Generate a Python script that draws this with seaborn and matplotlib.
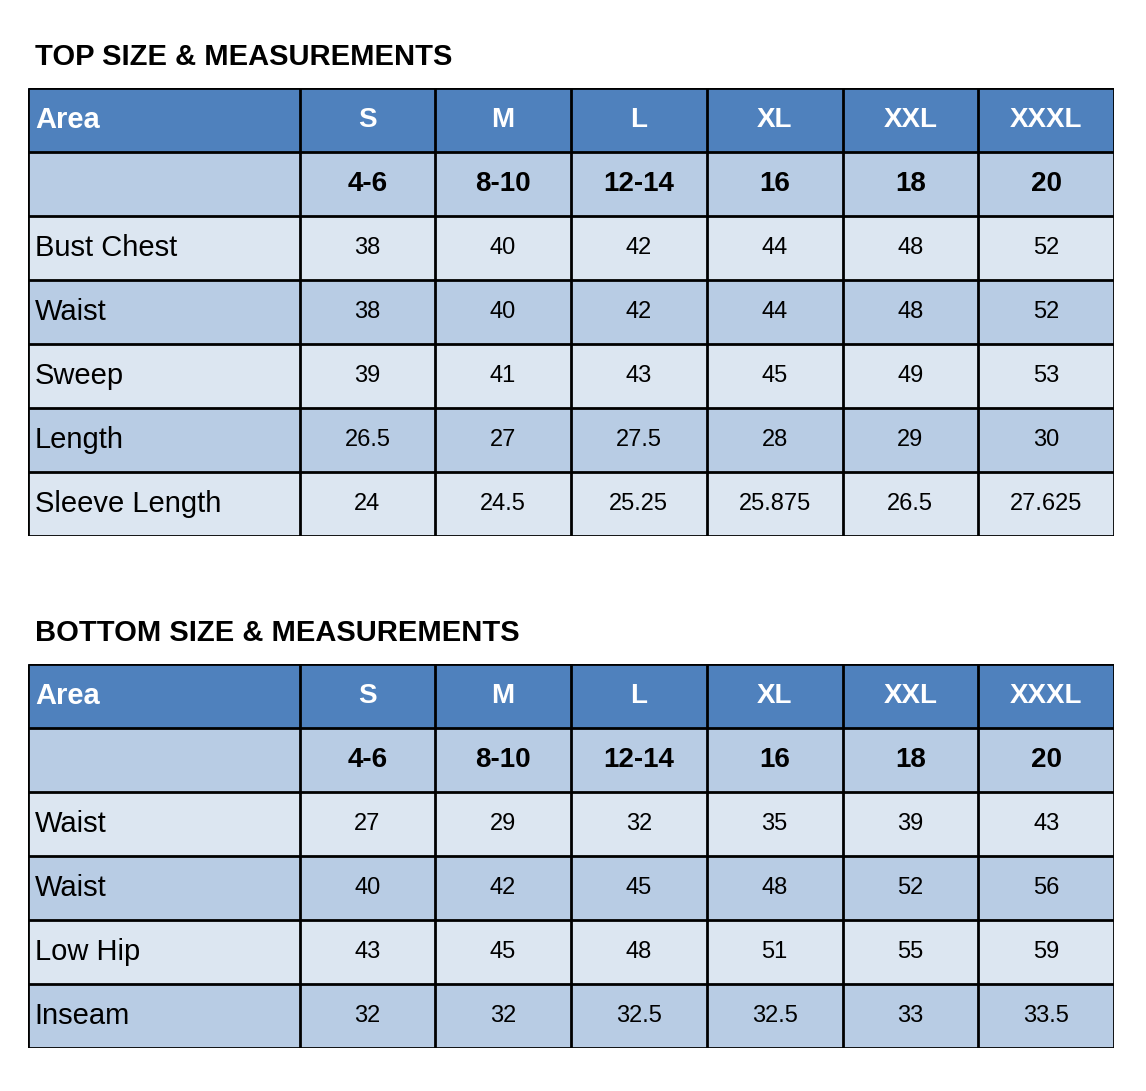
import matplotlib
matplotlib.use("Agg")
import matplotlib.pyplot as plt
import seaborn as sns
import numpy as np
from matplotlib.colors import ListedColormap

sizes = ["S", "M", "L", "XL", "XXL", "XXXL"]
numeric_sizes = ["4-6", "8-10", "12-14", "16", "18", "20"]

top_rows = ["Bust Chest", "Waist", "Sweep", "Length", "Sleeve Length"]
top_values = [
    ["38", "40", "42", "44", "48", "52"],
    ["38", "40", "42", "44", "48", "52"],
    ["39", "41", "43", "45", "49", "53"],
    ["26.5", "27", "27.5", "28", "29", "30"],
    ["24", "24.5", "25.25", "25.875", "26.5", "27.625"],
]

bottom_rows = ["Waist", "Waist", "Low Hip", "Inseam"]
bottom_values = [
    ["27", "29", "32", "35", "39", "43"],
    ["40", "42", "45", "48", "52", "56"],
    ["43", "45", "48", "51", "55", "59"],
    ["32", "32", "32.5", "32.5", "33", "33.5"],
]

FW, FH = 1146, 1091
cmap = ListedColormap(["#4F81BD", "#B8CCE4", "#DCE6F1"])
plt.rcParams["font.family"] = ["Liberation Sans", "DejaVu Sans"]


def draw_table(fig, top_px, title, row_names, values):
    n = len(row_names) + 2
    h = n * 64
    ax = fig.add_axes([28 / FW, 1 - (top_px + h) / FH, 1086 / FW, h / FH])
    # first column spans two heatmap cells
    codes = np.zeros((n, 8))
    codes[1, :] = 1
    for i in range(len(row_names)):
        codes[i + 2, :] = 2 if i % 2 == 0 else 1
    sns.heatmap(codes, ax=ax, cmap=cmap, vmin=-0.5, vmax=2.5, cbar=False,
                xticklabels=False, yticklabels=False)
    lw = 2
    ax.hlines(range(n + 1), 0, 8, colors="black", linewidth=lw)
    ax.vlines([0] + list(range(2, 9)), 0, n, colors="black", linewidth=lw)
    ax.text(0.05, 0.5, "Area", ha="left", va="center", color="white",
            fontsize=21, fontweight="bold")
    for j, s in enumerate(sizes):
        ax.text(j + 2.5, 0.5, s, ha="center", va="center", color="white",
                fontsize=20, fontweight="bold")
        ax.text(j + 2.5, 1.5, numeric_sizes[j], ha="center", va="center",
                color="black", fontsize=20, fontweight="bold")
    for i, name in enumerate(row_names):
        ax.text(0.05, i + 2.5, name, ha="left", va="center", fontsize=21)
        for j, v in enumerate(values[i]):
            ax.text(j + 2.5, i + 2.5, v, ha="center", va="center", fontsize=17)
    fig.text(35 / FW, 1 - (top_px - 31) / FH, title, ha="left", va="center",
             fontsize=21, fontweight="bold")


fig = plt.figure(figsize=(FW / 100, FH / 100), dpi=100)
fig.patch.set_facecolor("white")
draw_table(fig, 88, "TOP SIZE & MEASUREMENTS", top_rows, top_values)
draw_table(fig, 664, "BOTTOM SIZE & MEASUREMENTS", bottom_rows, bottom_values)
fig.savefig("out.png", dpi=100)
